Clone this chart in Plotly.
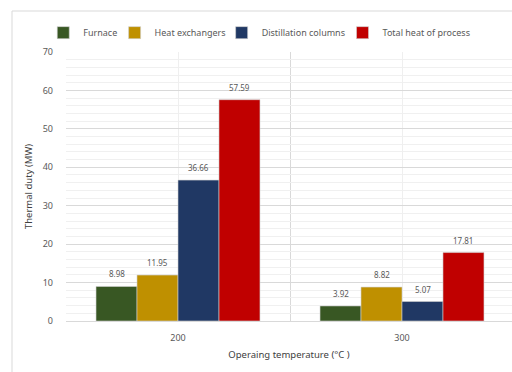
import plotly.graph_objects as go

# Operating temperatures (°C) and thermal duty (MW) per unit
temperatures = ["200", "300"]
furnace = [8.98, 3.92]
heat_exchangers = [11.95, 8.82]
distillation_columns = [36.66, 5.07]
total_heat = [57.59, 17.81]

series_names = ["Furnace", "Heat exchangers", "Distillation columns", "Total heat of process"]
series_values = [furnace, heat_exchangers, distillation_columns, total_heat]
series_colors = ["#385723", "#BF9000", "#203864", "#C00000"]

FONT = "Noto Sans"
LABEL_COLOR = "#595959"
BAR_GAP = 0.268
positions = list(range(len(temperatures)))

# Horizontal legend entry positions (paper fraction of the plot width)
legend_x = [-0.051, 0.109, 0.349, 0.620]
legend_ids = ["legend", "legend2", "legend3", "legend4"]

fig = go.Figure()
for name, values, color, lid in zip(series_names, series_values, series_colors, legend_ids):
    fig.add_trace(go.Bar(
        name=name,
        x=positions,
        y=values,
        legend=lid,
        showlegend=True,
        marker=dict(color=color, line=dict(color="#d0d0d0", width=0.6)),
    ))

# Value labels above each bar, placed at the grouped-bar offsets
n_series = len(series_values)
bar_w = (1 - BAR_GAP) / n_series
for i, values in enumerate(series_values):
    for j, v in enumerate(values):
        fig.add_annotation(
            x=positions[j] + (i - (n_series - 1) / 2) * bar_w,
            y=v,
            yshift=12.5,
            text=f"{v:.2f}",
            showarrow=False,
            font=dict(family=FONT, size=8, color=LABEL_COLOR),
        )

legend_common = dict(
    visible=True,
    orientation="h",
    xanchor="left",
    y=1.072,
    yanchor="middle",
    font=dict(family=FONT, size=9, color=LABEL_COLOR),
    itemwidth=30,
    bgcolor="rgba(0,0,0,0)",
)

layout_legends = {lid: dict(legend_common, x=lx) for lid, lx in zip(legend_ids, legend_x)}

fig.update_layout(
    width=512,
    height=372,
    margin=dict(l=66, r=0, t=52, b=51),
    paper_bgcolor="white",
    plot_bgcolor="white",
    showlegend=True,
    barmode="group",
    bargap=BAR_GAP,
    bargroupgap=0,
    font=dict(family=FONT, size=9, color=LABEL_COLOR),
    **layout_legends,
    xaxis=dict(
        range=[-0.5, -0.5 + 446 / 224],
        tickmode="array",
        tickvals=positions,
        ticktext=temperatures,
        showgrid=True,
        gridcolor="#efefef",
        gridwidth=1,
        zeroline=False,
        showline=False,
        ticks="",
        ticklabelstandoff=10,
        tickfont=dict(family=FONT, size=9, color=LABEL_COLOR),
        minor=dict(
            tickmode="array",
            tickvals=[-0.5, 0.5, 1.5],
            showgrid=True,
            gridcolor="#d9d9d9",
            gridwidth=1,
            ticks="",
        ),
        title=dict(
            text="Operaing temperature (°C )",
            font=dict(family=FONT, size=9.5, color="#404040"),
            standoff=8,
        ),
    ),
    yaxis=dict(
        range=[0, 70],
        tickmode="linear",
        tick0=0,
        dtick=10,
        showgrid=True,
        gridcolor="#d9d9d9",
        gridwidth=1,
        zeroline=True,
        zerolinecolor="#d9d9d9",
        zerolinewidth=1,
        showline=False,
        ticks="",
        ticklabelstandoff=12,
        tickfont=dict(family=FONT, size=9, color=LABEL_COLOR),
        minor=dict(dtick=2, showgrid=True, gridcolor="#f0f0f0", gridwidth=1, ticks=""),
        title=dict(
            text="Thermal duty (MW)",
            font=dict(family=FONT, size=9.5, color="#404040"),
            standoff=8,
        ),
    ),
)

# Chart-area outline
fig.add_shape(
    type="rect",
    xref="paper", yref="paper",
    x0=-54 / 446, x1=1.2,
    y0=-0.5, y1=1 + 41 / 269,
    line=dict(color="#d9d9d9", width=1),
    fillcolor="rgba(0,0,0,0)",
    layer="below",
)

fig.write_html("out.html")
